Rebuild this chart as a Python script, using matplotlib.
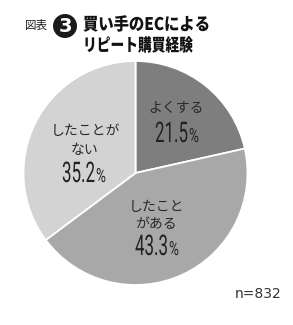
import matplotlib
matplotlib.use("Agg")
import matplotlib.pyplot as plt
from matplotlib.patches import Circle
from matplotlib.patheffects import AbstractPathEffect
from matplotlib.transforms import IdentityTransform, Affine2D

# ---- data ----
categories = ["よくする", "したことがある", "したことがない"]
label_lines = [["よくする"], ["したこと", "がある"], ["したことが", "ない"]]
values = [21.5, 43.3, 35.2]
colors = ["#7e7e7e", "#a8a8a8", "#d3d3d3"]
title_line1 = "買い手のECによる"
title_line2 = "リピート購買経験"
fig_label = "図表"
fig_number = "3"
note = "n=832"

jp = ["Noto Sans CJK JP", "DejaVu Sans"]
numf = ["Roboto", "DejaVu Sans"]

W, H = 293, 325
fig = plt.figure(figsize=(W / 100, H / 100), dpi=100)
fig.patch.set_facecolor("white")
renderer = fig.canvas.get_renderer()


class HScale(AbstractPathEffect):
    """Horizontally condense glyphs around an anchor x (display px)."""
    def __init__(self, sx, x0):
        super().__init__()
        self.sx, self.x0 = sx, x0

    def draw_path(self, renderer, gc, tpath, affine, rgbFace=None):
        a = affine + Affine2D().translate(-self.x0, 0).scale(self.sx, 1).translate(self.x0, 0)
        renderer.draw_path(gc, tpath, a, rgbFace)


def ptext(x, y, s, sx=1.0, ha="left", va="baseline", **kw):
    t = fig.text(x, H - y, s, transform=IdentityTransform(), ha=ha, va=va, **kw)
    if sx != 1.0:
        t.set_path_effects([HScale(sx, x)])
    return t


def width(s, **kw):
    t = fig.text(0, 0, s, **kw)
    w = t.get_window_extent(renderer).width
    t.remove()
    return w


# ---- pie ----
cx, cy, r = 135.5, 173, 112
ax = fig.add_axes([(cx - r) / W, (H - cy - r) / H, 2 * r / W, 2 * r / H])
ax.pie(values, colors=colors, startangle=90, counterclock=False, radius=1,
       wedgeprops=dict(edgecolor="white", linewidth=1.3))
ax.set_xlim(-1, 1)
ax.set_ylim(-1, 1)
ax.set_aspect("equal")
ax.axis("off")

# label anchor positions (pixel coords), per category
text_pos = [
    [(176, 108)],
    [(156, 207), (156, 224)],
    [(85, 131), (85, 150)],
]
num_pos = [(177, 142), (157, 255), (84, 182)]   # (center x, baseline y)

NUM_FS, NUM_W = 20.5, 33
PCT_FS, PCT_W = 14, 10
num_kw = dict(family=numf, weight="normal", color="#222222")
for lines, tps, (nx, ny), v in zip(label_lines, text_pos, num_pos, values):
    for line, (x, y) in zip(lines, tps):
        ptext(x, y, line, ha="center", va="center", family=jp, fontsize=10,
              color="#2a2a2a")
    s = f"{v:.1f}"
    sxd = NUM_W / width(s, fontsize=NUM_FS, **num_kw)
    sxp = PCT_W / width("%", fontsize=PCT_FS, **num_kw)
    xs = nx - (NUM_W + 1 + PCT_W) / 2 + NUM_W
    ptext(xs, ny, s, sx=sxd, ha="right", fontsize=NUM_FS, **num_kw)
    ptext(xs + 1, ny, "%", sx=sxp, ha="left", fontsize=PCT_FS, **num_kw)

# ---- title ----
ptext(25, 25, fig_label, va="center", family=jp, fontsize=8.3, color="#222222")
fig.patches.append(Circle((65, H - 26), 12, facecolor="#1a1a1a", edgecolor="none",
                          transform=IdentityTransform(), figure=fig))
ptext(65, 26.5, fig_number, ha="center", va="center", family="DejaVu Sans",
      fontsize=14, weight="bold", color="white")

TFS = 12.5
for line, y, target in [(title_line1, 25, 127), (title_line2, 46, 110)]:
    w = width(line, family=jp, fontsize=TFS, weight="heavy")
    ptext(83, y, line, sx=min(1.0, target / w), va="center", family=jp,
          fontsize=TFS, weight="heavy", color="#111111")

ptext(282, 294, note, ha="right", va="center", family="DejaVu Sans", fontsize=10,
      color="#333333")

fig.savefig("out.png", dpi=100, facecolor="white")
